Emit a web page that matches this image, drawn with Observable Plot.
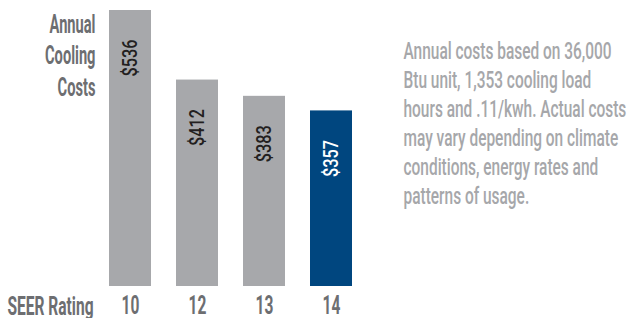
<!DOCTYPE html>
<html><head><meta charset="utf-8">
<script src="https://cdn.jsdelivr.net/npm/d3@7"></script>
<script src="https://cdn.jsdelivr.net/npm/@observablehq/plot@0.6"></script>
<style>
html,body{margin:0;padding:0;background:#fff;}
</style></head><body><div id="chart"></div>
<script>
const seer = ["10", "12", "13", "14"];
const costs = [536, 412, 383, 357];
const costLabels = ["$536", "$412", "$383", "$357"];
const highlighted = [false, false, false, true];
const yTitle = ["Annual\nCooling\nCosts"];
const xTitle = ["SEER Rating"];
const note = ["Annual costs based on 36,000\nBtu unit, 1,353 cooling load\nhours and .11/kwh. Actual costs\nmay vary depending on climate\nconditions, energy rates and\npatterns of usage."];

const data = seer.map((s, i) => ({seer: s, cost: costs[i], label: costLabels[i], hi: highlighted[i]}));
const FONT = 'Roboto, "Liberation Sans", sans-serif';
const GRAY = "#a7a8ab", BLUE = "#00467f", DARK = "#6d6e71", LIGHT = "#a6a7aa";

const chart = Plot.plot({
  width: 630, height: 318,
  marginLeft: 108, marginRight: 276, marginTop: 10, marginBottom: 32,
  style: {fontFamily: FONT, background: "#fff", color: DARK, overflow: "visible"},
  x: {domain: seer, paddingInner: 0.366, paddingOuter: 0, axis: null},
  y: {domain: [44, 536], clamp: true, axis: null},
  color: {type: "identity"},
  marks: [
    Plot.barY(data, {x: "seer", y: "cost", fill: d => d.hi ? BLUE : GRAY}),
    Plot.text(data, {x: "seer", y: "cost", text: "label", rotate: -90, textAnchor: "end",
      dy: 29, fontSize: 20, fontWeight: 500, fill: d => d.hi ? "#ffffff" : "#231f20"}),
    Plot.axisX({tickSize: 0, tickPadding: 10, fontSize: 25, fontWeight: 700, label: null, fill: DARK}),
    Plot.text(yTitle, {text: d => d, frameAnchor: "top-left", textAnchor: "end", lineAnchor: "top",
      dx: -13, dy: 0, lineHeight: 1.19, fontSize: 26.5, fontWeight: 700, fill: DARK}),
    Plot.text(xTitle, {text: d => d, frameAnchor: "bottom-left", textAnchor: "end", lineAnchor: "bottom",
      dx: -15, dy: 28, fontSize: 25, fontWeight: 700, fill: DARK}),
    Plot.text(note, {text: d => d, frameAnchor: "top-right", textAnchor: "start", lineAnchor: "top",
      dx: 49, dy: 28, lineHeight: 1.234, fontSize: 23.5, fontWeight: 500, fill: LIGHT})
  ]
});
document.getElementById("chart").appendChild(chart);

// Condense glyphs horizontally (the original uses a very condensed gothic face):
// a horizontal squeeze factor is fitted so that a reference line has the width seen in the picture.
function squeeze(texts, s) {
  texts.each(function() {
    const t = this.getAttribute("transform") || "";
    this.setAttribute("transform", t + ` scale(${s},1)`);
  });
}
function fit(node, width, line = 0) {
  const spans = node.querySelectorAll("tspan");
  const el = spans.length ? spans[line] : node;
  return width / el.getComputedTextLength();
}
const [gBar, gYTitle, gXTitle, gNote] = chart.querySelectorAll('g[aria-label="text"]');
const axisGroup = chart.querySelector('g[aria-label="x-axis tick label"]');
const sBar = fit(gBar.querySelector("text"), 37);
const sY = fit(gYTitle.querySelector("text"), 46);
const sX = fit(gXTitle.querySelector("text"), 86);
const sN = fit(gNote.querySelector("text"), 223, 2);
squeeze(d3.select(gBar).selectAll("text"), sBar);
squeeze(d3.select(gYTitle).selectAll("text"), sY);
squeeze(d3.select(gXTitle).selectAll("text"), sX);
squeeze(d3.select(gNote).selectAll("text"), sN);
if (axisGroup) squeeze(d3.select(axisGroup).selectAll("text"), sX);
</script>
</body></html>
